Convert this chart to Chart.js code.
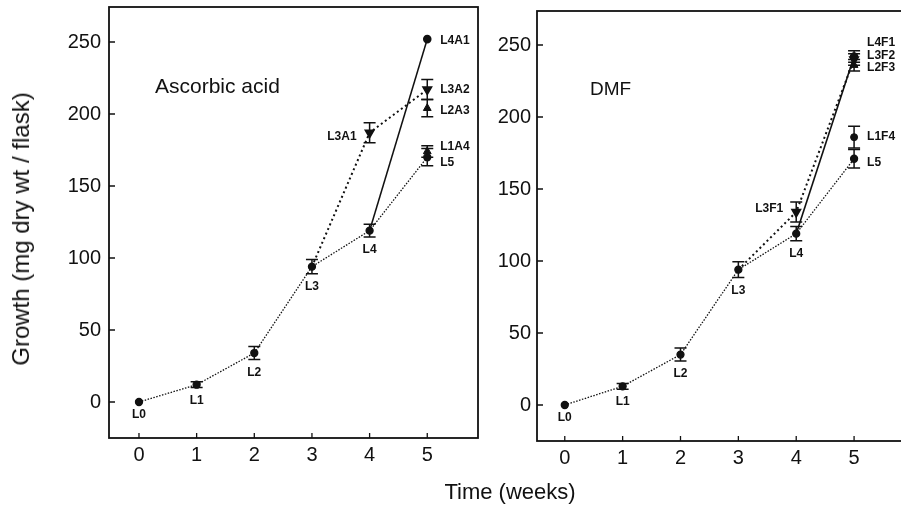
<!DOCTYPE html>
<html>
<head>
<meta charset="utf-8">
<script src="https://cdn.jsdelivr.net/npm/chart.js@4.4.0/dist/chart.umd.min.js"></script>
<style>
html, body { margin: 0; padding: 0; background: #fff; }
#wrap { position: relative; width: 901px; height: 510px; overflow: hidden; font-family: "Liberation Sans", Arial, sans-serif; color: #111; }
#left { position: absolute; left: 0; top: 0; }
#right { position: absolute; left: 480px; top: 0; }
#xtitle { position: absolute; left: 510px; top: 479px; transform: translateX(-50%); font-size: 22px; line-height: 26px; white-space: nowrap; }
#ytitle { position: absolute; left: 21px; top: 229px; transform: translate(-50%, -50%) rotate(-90deg); font-size: 24px; line-height: 26px; white-space: nowrap; }
</style>
</head>
<body>
<div id="wrap">
  <canvas id="left" width="480" height="510"></canvas>
  <canvas id="right" width="460" height="510"></canvas>
  <div id="ytitle">Growth (mg dry wt / flask)</div>
  <div id="xtitle">Time (weeks)</div>
</div>
<script>
// weeks of culture, and the y tick values
const weeks = [0, 1, 2, 3, 4, 5];
const yTicks = [0, 50, 100, 150, 200, 250];

// untreated cultures L0..L5
const controlNames = ['L0', 'L1', 'L2', 'L3', 'L4', 'L5'];
const ascControl = [0, 12, 34, 94, 119, 170];
const ascControlErr = [0, 2, 4.5, 5, 4.5, 6];
const dmfControl = [0, 13, 35, 94, 119, 171];
const dmfControlErr = [0, 2, 4.5, 5.5, 5, 6.5];

// treated cultures: first the L3 branch (wk 4, wk 5), then L4, L2, L1 at week 5
const ascNames = ['L3A1', 'L3A2', 'L4A1', 'L2A3', 'L1A4'];
const ascWeeks = [4, 5, 5, 5, 5];
const ascGrowth = [187, 217, 252, 204, 174];
const ascErr = [7, 7, 0, 6, 4];

const dmfNames = ['L3F1', 'L3F2', 'L4F1', 'L2F3', 'L1F4'];
const dmfWeeks = [4, 5, 5, 5, 5];
const dmfGrowth = [134, 240, 242, 236, 186];
const dmfErr = [7, 4, 4, 4, 7.5];

const FONT = '"Liberation Sans", Arial, sans-serif';
const INK = '#111';

function buildSets(control, controlErr, names, wks, growth, err, lastStyle) {
  const pt = i => ({ x: wks[i], y: growth[i], e: err[i], name: names[i] });
  const ctl = weeks.map((w, i) => ({ x: w, y: control[i], e: controlErr[i], name: controlNames[i] }));
  const base = { borderColor: INK, backgroundColor: INK, pointBorderColor: INK, pointBackgroundColor: INK, fill: false };
  return [
    Object.assign({}, base, { data: ctl, borderWidth: 1.3, borderDash: [1.5, 1.5], pointStyle: 'circle', pointRadius: 3.5, showLine: true }),
    Object.assign({}, base, { data: [{ x: weeks[3], y: control[3] }, pt(0), pt(1)], borderWidth: 2, borderDash: [2, 3],
      pointStyle: 'triangle', rotation: 180, pointRadius: [0, 4.5, 4.5], showLine: true }),
    Object.assign({}, base, { data: [{ x: weeks[4], y: control[4] }, pt(2)], borderWidth: 1.6, pointStyle: 'circle', pointRadius: [0, 3.5], showLine: true }),
    Object.assign({}, base, { data: [pt(3)], showLine: false, pointStyle: 'triangle', pointRadius: 4.5 }),
    Object.assign({}, base, { data: [pt(4)], showLine: false, pointStyle: lastStyle, pointRadius: lastStyle === 'circle' ? 3.5 : 4.5 })
  ];
}

// vertical error bars with caps
const errorBars = {
  id: 'errorBars',
  beforeDatasetsDraw(chart) {
    const { ctx, scales: { x, y } } = chart;
    ctx.save();
    ctx.strokeStyle = INK;
    ctx.lineWidth = 1.5;
    chart.data.datasets.forEach(ds => ds.data.forEach(p => {
      if (!p.e) return;
      const px = x.getPixelForValue(p.x);
      const top = y.getPixelForValue(p.y + p.e);
      const bot = y.getPixelForValue(p.y - p.e);
      ctx.beginPath();
      ctx.moveTo(px, top); ctx.lineTo(px, bot);
      ctx.moveTo(px - 6, top); ctx.lineTo(px + 6, top);
      ctx.moveTo(px - 6, bot); ctx.lineTo(px + 6, bot);
      ctx.stroke();
    }));
    ctx.restore();
  }
};

// small culture names next to the points
const pointNames = {
  id: 'pointNames',
  afterDatasetsDraw(chart, args, opts) {
    const { ctx, scales: { x, y } } = chart;
    ctx.save();
    ctx.fillStyle = INK;
    ctx.font = 'bold 12px ' + FONT;
    ctx.textBaseline = 'middle';
    chart.data.datasets.forEach(ds => ds.data.forEach(p => {
      if (!p.name) return;
      const px = x.getPixelForValue(p.x);
      const py = y.getPixelForValue(p.y);
      const nudge = opts.nudge[p.name] || 0;
      if (p.x === 5) {
        ctx.textAlign = 'left';
        ctx.fillText(p.name, px + 13, py + nudge);
      } else if (controlNames.includes(p.name)) {
        ctx.textAlign = 'center';
        ctx.fillText(p.name, px, y.getPixelForValue(p.y - p.e) + 13);
      } else {
        ctx.textAlign = 'right';
        ctx.fillText(p.name, px - 13, py + nudge);
      }
    }));
    ctx.restore();
  }
};

// box around the plot, inward ticks, panel name
const frame = {
  id: 'frame',
  afterDraw(chart, args, opts) {
    const { ctx, chartArea: a, scales: { x, y } } = chart;
    ctx.save();
    ctx.strokeStyle = INK;
    ctx.lineWidth = 1.8;
    ctx.strokeRect(a.left, a.top, a.right - a.left, a.bottom - a.top);
    ctx.lineWidth = 1.3;
    ctx.beginPath();
    weeks.forEach(w => {
      const px = x.getPixelForValue(w);
      ctx.moveTo(px, a.bottom); ctx.lineTo(px, a.bottom - 5);
    });
    yTicks.forEach(v => {
      const py = y.getPixelForValue(v);
      ctx.moveTo(a.left, py); ctx.lineTo(a.left + 6, py);
    });
    ctx.stroke();
    ctx.fillStyle = INK;
    ctx.font = opts.size + 'px ' + FONT;
    ctx.textAlign = 'left';
    ctx.textBaseline = 'alphabetic';
    ctx.fillText(opts.title, a.left + opts.dx, a.top + opts.dy);
    ctx.restore();
  }
};

function makeChart(id, sets, cfg) {
  return new Chart(document.getElementById(id), {
    type: 'scatter',
    data: { datasets: sets },
    plugins: [errorBars, pointNames, frame],
    options: {
      responsive: false,
      animation: false,
      devicePixelRatio: 1,
      layout: { autoPadding: false, padding: { left: 0, top: cfg.top, right: cfg.right, bottom: 0 } },
      plugins: {
        legend: { display: false },
        tooltip: { enabled: false },
        pointNames: { nudge: cfg.nudge },
        frame: cfg.frame
      },
      scales: {
        x: {
          type: 'linear', min: cfg.xMin, max: cfg.xMax,
          grid: { display: false, drawTicks: false },
          border: { display: false },
          afterBuildTicks: s => { s.ticks = weeks.map(v => ({ value: v })); },
          afterFit: s => { s.height = cfg.xHeight; s.paddingLeft = 0; s.paddingRight = 0; },
          ticks: { padding: 5, color: INK, font: { size: 20, family: FONT }, maxRotation: 0, autoSkip: false }
        },
        y: {
          type: 'linear', min: -25, max: cfg.yMax,
          grid: { display: false, drawTicks: false },
          border: { display: false },
          afterBuildTicks: s => { s.ticks = yTicks.map(v => ({ value: v })); },
          afterFit: s => { s.width = cfg.yWidth; s.paddingTop = 0; s.paddingBottom = 0; },
          ticks: { padding: cfg.yPad, color: INK, font: { size: 20, family: FONT } }
        }
      }
    }
  });
}

makeChart('left', buildSets(ascControl, ascControlErr, ascNames, ascWeeks, ascGrowth, ascErr, 'triangle'), {
  top: 7, right: 2, xHeight: 72, yWidth: 109, yPad: 8,
  xMin: -0.52, xMax: 5.88, yMax: 274.3,
  nudge: { L5: 5, L1A4: -5, L4A1: 2, L3A2: 0, L2A3: 2, L3A1: 4 },
  frame: { title: 'Ascorbic acid', size: 21, dx: 46, dy: 86 }
});

makeChart('right', buildSets(dmfControl, dmfControlErr, dmfNames, dmfWeeks, dmfGrowth, dmfErr, 'circle'), {
  top: 11, right: 35, xHeight: 69, yWidth: 57, yPad: 6,
  xMin: -0.48, xMax: 5.88, yMax: 273.6,
  nudge: { L5: 4, L1F4: 0, L4F1: -14, L3F2: -4, L2F3: 3, L3F1: -3 },
  frame: { title: 'DMF', size: 19, dx: 53, dy: 84 }
});
</script>
</body>
</html>
